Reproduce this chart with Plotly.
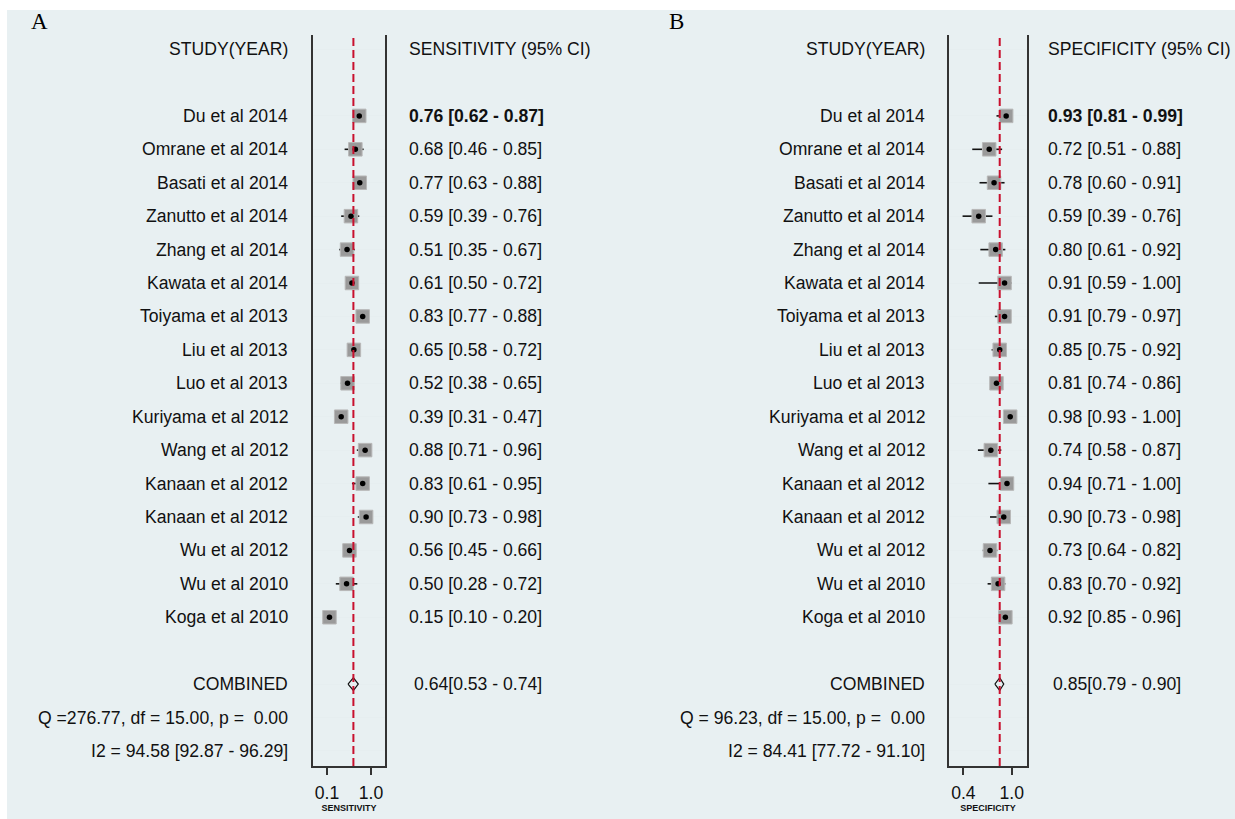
import plotly.graph_objects as go

# ---------------- data ----------------
studies = ["Du et al 2014", "Omrane et al 2014", "Basati et al 2014", "Zanutto et al 2014",
           "Zhang et al 2014", "Kawata et al 2014", "Toiyama et al 2013", "Liu et al 2013",
           "Luo et al 2013", "Kuriyama et al 2012", "Wang et al 2012", "Kanaan et al 2012",
           "Kanaan et al 2012", "Wu et al 2012", "Wu et al 2010", "Koga et al 2010"]

sens_est = [0.76, 0.68, 0.77, 0.59, 0.51, 0.61, 0.83, 0.65, 0.52, 0.39, 0.88, 0.83, 0.90, 0.56, 0.50, 0.15]
sens_lo  = [0.62, 0.46, 0.63, 0.39, 0.35, 0.50, 0.77, 0.58, 0.38, 0.31, 0.71, 0.61, 0.73, 0.45, 0.28, 0.10]
sens_hi  = [0.87, 0.85, 0.88, 0.76, 0.67, 0.72, 0.88, 0.72, 0.65, 0.47, 0.96, 0.95, 0.98, 0.66, 0.72, 0.20]

spec_est = [0.93, 0.72, 0.78, 0.59, 0.80, 0.91, 0.91, 0.85, 0.81, 0.98, 0.74, 0.94, 0.90, 0.73, 0.83, 0.92]
spec_lo  = [0.81, 0.51, 0.60, 0.39, 0.61, 0.59, 0.79, 0.75, 0.74, 0.93, 0.58, 0.71, 0.73, 0.64, 0.70, 0.85]
spec_hi  = [0.99, 0.88, 0.91, 0.76, 0.92, 1.00, 0.97, 0.92, 0.86, 1.00, 0.87, 1.00, 0.98, 0.82, 0.92, 0.96]

sens_pooled = [0.64, 0.53, 0.74]
spec_pooled = [0.85, 0.79, 0.90]

sens_het = {"Q": 276.77, "df": 15.00, "p": 0.00, "I2": 94.58, "I2lo": 92.87, "I2hi": 96.29}
spec_het = {"Q": 96.23, "df": 15.00, "p": 0.00, "I2": 84.41, "I2lo": 77.72, "I2hi": 91.10}

sens_ticks = [0.1, 1.0]
spec_ticks = [0.4, 1.0]

# ---------------- layout constants ----------------
W, H = 1235, 819
FONT = "Liberation Sans, Arial, sans-serif"
FS = 17.6
TXT = "#111111"
ROW0 = 2                       # first study row index
study_rows = [ROW0 + i for i in range(len(studies))]
row_comb = ROW0 + len(studies) + 1
row_q = row_comb + 1
row_i2 = row_comb + 2
grid_rows = [0] + study_rows + [row_comb, row_q, row_i2]

def px(x):
    return x / W

def nb(s):
    return s.replace("  ", "\u00a0\u00a0")

panels = [
    dict(est=sens_est, lo=sens_lo, hi=sens_hi, pooled=sens_pooled, het=sens_het,
         ticks=sens_ticks, xr=[-0.187, 1.287], dom=[px(313), px(385)],
         xa="x", ya="y", name_x=px(290), val_x=px(407), hdr="SENSITIVITY (95% CI)",
         title="SENSITIVITY", letter="A", letter_x=px(29)),
    dict(est=spec_est, lo=spec_lo, hi=spec_hi, pooled=spec_pooled, het=spec_het,
         ticks=spec_ticks, xr=[0.222, 1.188], dom=[px(949), px(1027)],
         xa="x2", ya="y2", name_x=px(927), val_x=px(1046), hdr="SPECIFICITY (95% CI)",
         title="SPECIFICITY", letter="B", letter_x=px(667)),
]

fig = go.Figure()
annotations = []
shapes = []

# background panel
shapes.append(dict(type="rect", xref="paper", yref="paper", x0=px(7), x1=1.0,
                   y0=0, y1=1 - 10 / H, fillcolor="#E8F0F2", line=dict(width=0), layer="below"))

ydom = [1 - 766 / H, 1 - 35 / H]

def ann(text, xref, yref, x, y, xanchor, size=FS, family=FONT, color=TXT):
    return dict(text=text, xref=xref, yref=yref, x=x, y=y, xanchor=xanchor, yanchor="middle",
                showarrow=False, font=dict(family=family, size=size, color=color))

for k, p in enumerate(panels):
    # CI lines + grey boxes
    fig.add_trace(go.Scatter(
        x=p["est"], y=study_rows, mode="markers", xaxis=p["xa"], yaxis=p["ya"],
        marker=dict(symbol="square", size=13.5, color="#9A9A9A", line=dict(color="#B8B8B8", width=1)),
        error_x=dict(type="data", symmetric=False,
                     array=[h - e for h, e in zip(p["hi"], p["est"])],
                     arrayminus=[e - l for e, l in zip(p["est"], p["lo"])],
                     color="#111111", thickness=1.6, width=0),
        hoverinfo="skip", showlegend=False))
    # black centre dots
    fig.add_trace(go.Scatter(
        x=p["est"], y=study_rows, mode="markers", xaxis=p["xa"], yaxis=p["ya"],
        marker=dict(symbol="circle", size=5.5, color="#000000"),
        hoverinfo="skip", showlegend=False))
    # pooled diamond
    e, l, h = p["pooled"]
    dh = 0.19
    fig.add_trace(go.Scatter(
        x=[l, e, h, e, l], y=[row_comb, row_comb - dh, row_comb, row_comb + dh, row_comb],
        mode="lines", xaxis=p["xa"], yaxis=p["ya"],
        line=dict(color="#111111", width=1.2), hoverinfo="skip", showlegend=False))
    # red dashed reference line at pooled estimate
    shapes.append(dict(type="line", xref=p["xa"], yref=p["ya"] + " domain", x0=e, x1=e, y0=0, y1=1,
                       line=dict(color="#C8102E", width=2, dash="8px,4px"), layer="above"))

    # text: header
    annotations.append(ann("STUDY(YEAR)", "paper", p["ya"], p["name_x"], 0, "right"))
    annotations.append(ann(p["hdr"], "paper", p["ya"], p["val_x"], 0, "left"))
    for i, (s, r) in enumerate(zip(studies, study_rows)):
        annotations.append(ann(s, "paper", p["ya"], p["name_x"], r, "right"))
        v = f"{p['est'][i]:.2f} [{p['lo'][i]:.2f} - {p['hi'][i]:.2f}]"
        if i == 0:
            v = "<b>" + v + "</b>"
        annotations.append(ann(v, "paper", p["ya"], p["val_x"], r, "left"))
    annotations.append(ann("COMBINED", "paper", p["ya"], p["name_x"], row_comb, "right"))
    annotations.append(ann(f"{e:.2f}[{l:.2f} - {h:.2f}]", "paper", p["ya"], p["val_x"] + px(5),
                           row_comb, "left"))
    het = p["het"]
    qtxt = nb(f"Q ={het['Q']:6.2f}, df = {het['df']:.2f}, p ={het['p']:6.2f}")
    itxt = f"I2 = {het['I2']:.2f} [{het['I2lo']:.2f} - {het['I2hi']:.2f}]"
    annotations.append(ann(qtxt, "paper", p["ya"], p["name_x"], row_q, "right"))
    annotations.append(ann(itxt, "paper", p["ya"], p["name_x"], row_i2, "right"))
    # panel letter
    annotations.append(ann(p["letter"], "paper", "paper", p["letter_x"], 1 - 21 / H, "left",
                           size=23, family="Liberation Serif, Times New Roman, serif", color="#000"))

xaxis_common = dict(showgrid=False, zeroline=False, showline=True, linecolor="#333333", linewidth=1.5,
                    mirror=False, ticks="outside", ticklen=7, tickwidth=1.5, tickcolor="#333333",
                    ticklabelstandoff=3,
                    tickfont=dict(family=FONT, size=FS, color=TXT),
                    title=dict(font=dict(family=FONT, size=9, color=TXT), standoff=0))
yaxis_common = dict(range=[row_i2 + 0.45, -0.42], showgrid=True, gridcolor="#E6EEF0", gridwidth=1,
                    tickvals=grid_rows, showticklabels=False, ticks="", zeroline=False,
                    showline=True, linecolor="#333333", linewidth=1.5, mirror=True, domain=ydom)

fig.update_layout(
    width=W, height=H, margin=dict(l=0, r=0, t=0, b=0),
    paper_bgcolor="#FFFFFF", plot_bgcolor="#FFFFFF",
    xaxis=dict(xaxis_common, domain=panels[0]["dom"], range=panels[0]["xr"], anchor="y",
               tickvals=panels[0]["ticks"], ticktext=[f"{t:.1f}" for t in panels[0]["ticks"]],
               title=dict(xaxis_common["title"], text="<b>" + panels[0]["title"] + "</b>")),
    xaxis2=dict(xaxis_common, domain=panels[1]["dom"], range=panels[1]["xr"], anchor="y2",
                tickvals=panels[1]["ticks"], ticktext=[f"{t:.1f}" for t in panels[1]["ticks"]],
                title=dict(xaxis_common["title"], text="<b>" + panels[1]["title"] + "</b>")),
    yaxis=dict(yaxis_common, anchor="x"),
    yaxis2=dict(yaxis_common, anchor="x2"),
    shapes=shapes, annotations=annotations,
)

fig.write_html("out.html", config={"displayModeBar": False},
               post_script="document.body.style.margin='0';")
